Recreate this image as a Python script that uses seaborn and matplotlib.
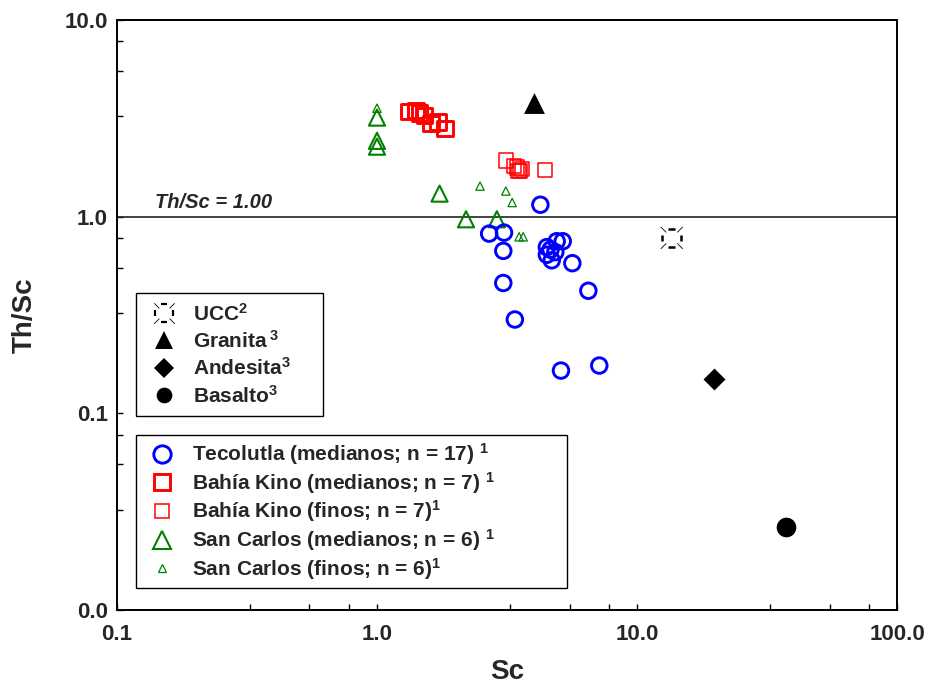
import matplotlib
matplotlib.use("Agg")
import matplotlib.pyplot as plt
import seaborn as sns
import numpy as np
from matplotlib.path import Path
from matplotlib.lines import Line2D
from matplotlib.legend_handler import HandlerTuple

# Tecolutla (medianos; n = 17)
tec_sc = [4.25, 2.70, 3.08, 3.06, 3.06, 3.39, 4.50, 4.50, 4.70, 4.91, 5.18,
          5.64, 6.50, 5.10, 7.16, 4.65, 4.85]
tec_thsc = [1.15, 0.82, 0.83, 0.67, 0.46, 0.30, 0.70, 0.64, 0.60, 0.75, 0.75,
            0.58, 0.42, 0.165, 0.175, 0.68, 0.66]

# Bahia Kino (medianos; n = 7)
bkm_sc = [1.32, 1.41, 1.46, 1.52, 1.61, 1.72, 1.83]
bkm_thsc = [3.43, 3.46, 3.37, 3.26, 2.97, 3.02, 2.80]

# Bahia Kino (finos; n = 7)
bkf_sc = [3.13, 3.36, 3.46, 3.50, 3.55, 3.61, 4.44]
bkf_thsc = [1.93, 1.81, 1.78, 1.70, 1.71, 1.75, 1.72]

# San Carlos (medianos; n = 6)
scm_sc = [1.0, 1.0, 1.0, 1.74, 2.20, 2.89]
scm_thsc = [3.19, 2.43, 2.27, 1.31, 0.97, 0.97]

# San Carlos (finos; n = 6)
scf_sc = [1.0, 2.49, 3.13, 3.31, 3.52, 3.65]
scf_thsc = [3.56, 1.43, 1.35, 1.18, 0.79, 0.79]

# reference compositions: UCC, Granita, Andesita, Basalto
ref_sc = [13.6, 4.0, 19.8, 37.4]
ref_thsc = [0.78, 3.78, 0.15, 0.0264]

x_ticks = [0.1, 1, 10, 100]
x_tick_labels = ["0.1", "1.0", "10.0", "100.0"]
y_ticks = [0.01, 0.1, 1, 10]
y_tick_labels = ["0.0", "0.1", "1.0", "10.0"]

ref_labels = ["UCC$^{2}$", "Granita$\\,^{3}$", "Andesita$^{3}$", "Basalto$^{3}$"]
grp_labels = ["Tecolutla (medianos; n = 17) $^{1}$",
              "Bahía Kino (medianos; n = 7) $^{1}$",
              "Bahía Kino (finos; n = 7)$^{1}$",
              "San Carlos (medianos; n = 6) $^{1}$",
              "San Carlos (finos; n = 6)$^{1}$"]

sns.set_style("ticks")
plt.rcParams["font.family"] = ["Liberation Sans", "DejaVu Sans"]
plt.rcParams["font.weight"] = "bold"
plt.rcParams["mathtext.fontset"] = "custom"
plt.rcParams["mathtext.default"] = "regular"

# UCC symbol: thick dashes on the sides of a square + thin rays at the corners
dash_path = Path([(-0.3, 0.85), (0.3, 0.85), (-0.3, -0.85), (0.3, -0.85),
                  (-0.85, -0.3), (-0.85, 0.3), (0.85, -0.3), (0.85, 0.3)],
                 [Path.MOVETO, Path.LINETO] * 4)
ray_path = Path([(-0.5, 0.5), (-1, 1), (0.5, 0.5), (1, 1),
                 (-0.5, -0.5), (-1, -1), (0.5, -0.5), (1, -1)],
                [Path.MOVETO, Path.LINETO] * 4)

fig = plt.figure(figsize=(9.35, 6.94), dpi=100)
ax = fig.add_axes([0.1251, 0.1210, 0.8343, 0.8502])

ax.axhline(1.0, color="#222222", lw=1.2, zorder=1)

sns.scatterplot(x=scm_sc, y=scm_thsc, ax=ax, marker="^", s=135, facecolors="none",
                edgecolors="green", linewidths=1.5, zorder=3)
sns.scatterplot(x=scf_sc, y=scf_thsc, ax=ax, marker="^", s=36, facecolors="none",
                edgecolors="green", linewidths=0.9, zorder=3)
sns.scatterplot(x=bkm_sc, y=bkm_thsc, ax=ax, marker="s", s=125, facecolors="none",
                edgecolors="red", linewidths=2.1, zorder=3)
sns.scatterplot(x=bkf_sc, y=bkf_thsc, ax=ax, marker="s", s=105, facecolors="none",
                edgecolors="red", linewidths=1.1, zorder=3)
sns.scatterplot(x=tec_sc, y=tec_thsc, ax=ax, marker="o", s=125, facecolors="none",
                edgecolors="blue", linewidths=2.1, zorder=4)

# UCC
sns.scatterplot(x=ref_sc[:1], y=ref_thsc[:1], ax=ax, marker=dash_path, s=180,
                facecolors="none", edgecolors="black", linewidths=1.8, zorder=4)
sns.scatterplot(x=ref_sc[:1], y=ref_thsc[:1], ax=ax, marker=ray_path, s=250,
                facecolors="none", edgecolors="black", linewidths=0.6, zorder=4)
# Granita, Andesita, Basalto
sns.scatterplot(x=ref_sc[1:2], y=ref_thsc[1:2], ax=ax, marker="^", s=225,
                color="black", linewidth=0, zorder=4)
sns.scatterplot(x=ref_sc[2:3], y=ref_thsc[2:3], ax=ax, marker="D", s=125,
                color="black", linewidth=0, zorder=4)
sns.scatterplot(x=ref_sc[3:4], y=ref_thsc[3:4], ax=ax, marker="o", s=200,
                color="black", linewidth=0, zorder=4)

ax.set_xscale("log")
ax.set_yscale("log")
ax.set_xlim(0.1, 100)
ax.set_ylim(0.01, 10)
ax.set_xticks(x_ticks)
ax.set_xticklabels(x_tick_labels)
ax.set_yticks(y_ticks)
ax.set_yticklabels(y_tick_labels)
minor = [d * m for d in [0.01, 0.1, 1, 10] for m in [3.24, 5.5, 7.8]]
ax.set_xticks([v for v in minor if 0.1 < v < 100], minor=True)
ax.set_yticks([v for v in minor if 0.01 < v < 10], minor=True)
ax.tick_params(which="both", direction="in", length=4.3, width=1.0, color="black",
               top=False, right=False)
ax.tick_params(axis="x", which="major", labelsize=16, pad=10)
ax.tick_params(axis="y", which="major", labelsize=16, pad=6.5)
ax.tick_params(which="minor", labelbottom=False, labelleft=False)
for sp in ax.spines.values():
    sp.set_linewidth(1.4)
    sp.set_color("black")

ax.set_xlabel("Sc", fontsize=20, fontweight="bold", labelpad=10)
ax.set_ylabel("Th/Sc", fontsize=20, fontweight="bold", labelpad=19)

ax.text(0.14, 1.107, "Th/Sc = 1.00", fontsize=14.5, fontweight="bold",
        fontstyle="italic", va="baseline", ha="left")

# legends
ucc_h = (Line2D([], [], ls="none", marker=dash_path, ms=12.5, mew=1.6, mfc="none", mec="black"),
         Line2D([], [], ls="none", marker=ray_path, ms=14.7, mew=0.6, mfc="none", mec="black"))
ref_handles = [ucc_h,
               Line2D([], [], ls="none", marker="^", ms=13, color="black", mew=0),
               Line2D([], [], ls="none", marker="D", ms=9.7, color="black", mew=0),
               Line2D([], [], ls="none", marker="o", ms=11.3, color="black", mew=0)]
leg1 = ax.legend(ref_handles, ref_labels, loc="upper left",
                 bbox_to_anchor=(0.0244, 0.0, 0.2397, 0.537), mode="expand",
                 borderaxespad=0, fontsize=15, frameon=True, fancybox=False,
                 edgecolor="black", framealpha=1, borderpad=0.45, handlelength=1.8,
                 handletextpad=0.5, labelspacing=0.26,
                 handler_map={tuple: HandlerTuple(ndivide=1)})
leg1.get_frame().set_linewidth(1.0)
ax.add_artist(leg1)

grp_handles = [Line2D([], [], ls="none", marker="o", ms=12.5, mew=2.1, mfc="none", mec="blue"),
               Line2D([], [], ls="none", marker="s", ms=12, mew=2.1, mfc="none", mec="red"),
               Line2D([], [], ls="none", marker="s", ms=10, mew=1.1, mfc="none", mec="red"),
               Line2D([], [], ls="none", marker="^", ms=12.5, mew=1.5, mfc="none", mec="green"),
               Line2D([], [], ls="none", marker="^", ms=5.5, mew=0.9, mfc="none", mec="green")]
leg2 = ax.legend(grp_handles, grp_labels, loc="upper left",
                 bbox_to_anchor=(0.0244, 0.0, 0.5526, 0.2966), mode="expand",
                 borderaxespad=0, fontsize=15, frameon=True, fancybox=False,
                 edgecolor="black", framealpha=1, borderpad=0.3, handlelength=1.9,
                 handletextpad=0.5, labelspacing=0.13)
leg2.get_frame().set_linewidth(1.0)

fig.savefig("out.png", dpi=100)
